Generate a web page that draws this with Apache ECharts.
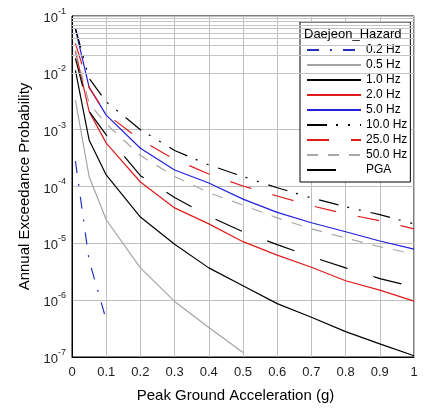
<!DOCTYPE html>
<html>
<head>
<meta charset="utf-8">
<script src="https://cdn.jsdelivr.net/npm/echarts@6/dist/echarts.min.js"></script>
<style>html,body{margin:0;padding:0;background:#fff;}#c{width:431px;height:408px;}</style>
</head>
<body>
<div id="c"></div>
<script>
// ---- data ----
var xFull = [0.01, 0.05, 0.1, 0.2, 0.3, 0.4, 0.5, 0.6, 0.7, 0.8, 0.9, 1.0];
var x02 = [0.01, 0.05, 0.1];
var x05 = [0.01, 0.05, 0.1, 0.2, 0.3, 0.4, 0.5];
var hz02 = [2.8e-4, 5e-6, 4.5e-7];
var hz05 = [3.3e-3, 1.5e-4, 2.6e-5, 3.7e-6, 9.5e-7, 3.3e-7, 1.2e-7];
var hz1 = [1.1e-2, 6.6e-4, 1.6e-4, 2.9e-5, 9.6e-6, 3.7e-6, 1.8e-6, 8.7e-7, 5e-7, 2.8e-7, 1.7e-7, 1.05e-7];
var hz2 = [2.4e-2, 2.1e-3, 5.8e-4, 1.2e-4, 4.2e-5, 2.2e-5, 1.07e-5, 6.2e-6, 3.8e-6, 2.2e-6, 1.5e-6, 9.6e-7];
var hz5 = [5.9e-2, 5.6e-3, 1.8e-3, 4.7e-4, 1.95e-4, 1.15e-4, 6.0e-5, 3.5e-5, 2.3e-5, 1.6e-5, 1.1e-5, 7.9e-6];
var hz10 = [6.1e-2, 8e-3, 3.1e-3, 1.0e-3, 4.3e-4, 2.4e-4, 1.5e-4, 9.5e-5, 6.3e-5, 4.4e-5, 3.2e-5, 2.2e-5];
var hz25 = [3.3e-2, 5.5e-3, 1.9e-3, 6.6e-4, 3.0e-4, 1.66e-4, 1.02e-4, 6.8e-5, 4.6e-5, 3.3e-5, 2.5e-5, 1.8e-5];
var hz50 = [2.5e-2, 2.9e-3, 1.26e-3, 3.5e-4, 1.5e-4, 7.8e-5, 4.7e-5, 2.8e-5, 1.8e-5, 1.24e-5, 8.7e-6, 6.5e-6];
var pga = [1.8e-2, 2.1e-3, 8.1e-4, 1.55e-4, 6.4e-5, 3.0e-5, 1.6e-5, 9.5e-6, 5.8e-6, 3.7e-6, 2.4e-6, 1.7e-6];
var legendNames = ['0.2 Hz', '0.5 Hz', '1.0 Hz', '2.0 Hz', '5.0 Hz', '10.0 Hz', '25.0 Hz', '50.0 Hz', 'PGA'];
var decades = [-7, -6, -5, -4, -3, -2];
var minorMultipliers = [2, 3, 4, 5, 6, 7, 8, 9];

function pairs(xs, ys) { return xs.map(function (x, i) { return [x, ys[i]]; }); }

var minorLines = [];
decades.forEach(function (d) {
  minorMultipliers.forEach(function (m) { minorLines.push({ yAxis: m * Math.pow(10, d) }); });
});

var FONT = '"Liberation Sans", Arial, sans-serif';

function lineSeries(name, data, color, type, z) {
  return {
    name: name, type: 'line', data: data, symbol: 'none', z: z || 3,
    lineStyle: { color: color, width: 1.2, type: type },
    itemStyle: { color: color },
    animation: false, silent: true
  };
}

var series = [
  {
    name: 'minor', type: 'line', data: [[0, 1e-7]], symbol: 'none', z: 1, silent: true, animation: false,
    lineStyle: { opacity: 0 },
    markLine: {
      silent: true, symbol: ['none', 'none'], animation: false,
      label: { show: false },
      lineStyle: { color: '#c4c4c4', width: 1, type: 'solid' },
      emphasis: { disabled: true },
      data: minorLines
    }
  },
  lineSeries('0.2 Hz', pairs(x02, hz02), '#2430c0', [12, 11, 2, 11]),
  lineSeries('0.5 Hz', pairs(x05, hz05), '#a4a4a4', 'solid'),
  lineSeries('1.0 Hz', pairs(xFull, hz1), '#000000', 'solid'),
  lineSeries('2.0 Hz', pairs(xFull, hz2), '#e01b1b', 'solid'),
  lineSeries('5.0 Hz', pairs(xFull, hz5), '#2020dd', 'solid'),
  lineSeries('10.0 Hz', pairs(xFull, hz10), '#000000', [20, 9, 2, 10, 2, 10]),
  lineSeries('25.0 Hz', pairs(xFull, hz25), '#e01b1b', [22, 22]),
  lineSeries('50.0 Hz', pairs(xFull, hz50), '#a8a8a8', [11, 10]),
  lineSeries('PGA', pairs(xFull, pga), '#000000', [29, 27])
];

var chart = echarts.init(document.getElementById('c'), null, { renderer: 'canvas' });
chart.setOption({
  backgroundColor: '#ffffff',
  animation: false,
  textStyle: { fontFamily: FONT },
  grid: { left: 72, right: 17, top: 16, bottom: 51, show: true, borderColor: '#000', borderWidth: 1, containLabel: false },
  title: {
    text: 'Daejeon_Hazard', left: 304, top: 28, padding: 0,
    textStyle: { fontFamily: FONT, fontSize: 13, fontWeight: 'normal', color: '#000' }
  },
  legend: {
    data: legendNames, orient: 'vertical', left: 300, top: 22,
    padding: [22, 3, 6, 6], itemGap: 3, itemWidth: 54, itemHeight: 12,
    borderColor: '#000', borderWidth: 1, backgroundColor: '#fff',
    itemStyle: { color: 'rgba(0,0,0,0)', borderWidth: 0, opacity: 0 },
    textStyle: { fontFamily: FONT, fontSize: 12, color: '#000', padding: [0, 0, 0, 0] },
    selectedMode: false
  },
  xAxis: {
    type: 'value', min: 0, max: 1, interval: 0.1,
    name: 'Peak Ground Acceleration (g)', nameLocation: 'middle', nameGap: 31,
    nameTextStyle: { fontFamily: FONT, fontSize: 15, color: '#000', padding: [0, 15, 0, 0] },
    axisLine: { show: true, onZero: false, lineStyle: { color: '#000' } },
    axisTick: { show: false },
    axisLabel: {
      fontFamily: FONT, fontSize: 13, color: '#222', margin: 9,
      formatter: function (v) { if (Math.abs(v) < 1e-9) return '0'; if (Math.abs(v - 1) < 1e-9) return '1'; return v.toFixed(1); }
    },
    splitLine: { show: true, lineStyle: { color: '#c0c0c0', width: 1 } }
  },
  yAxis: {
    type: 'log', logBase: 10, min: 1e-7, max: 1e-1, interval: 1,
    name: 'Annual Exceedance Probability', nameLocation: 'middle', nameGap: 40,
    nameTextStyle: { fontFamily: FONT, fontSize: 15, color: '#000' },
    axisLine: { show: true, lineStyle: { color: '#000' } },
    axisTick: { show: false },
    axisLabel: {
      margin: 6,
      formatter: function (v) { var e = Math.round(Math.log(v) / Math.LN10); return '{b|10}{e|' + e + '}'; },
      rich: {
        b: { fontFamily: FONT, fontSize: 13, color: '#222', verticalAlign: 'bottom', lineHeight: 18 },
        e: { fontFamily: FONT, fontSize: 9, color: '#222', verticalAlign: 'top', lineHeight: 10 }
      }
    },
    splitLine: { show: true, lineStyle: { color: '#c0c0c0', width: 1 } }
  },
  series: series
});
</script>
</body>
</html>
